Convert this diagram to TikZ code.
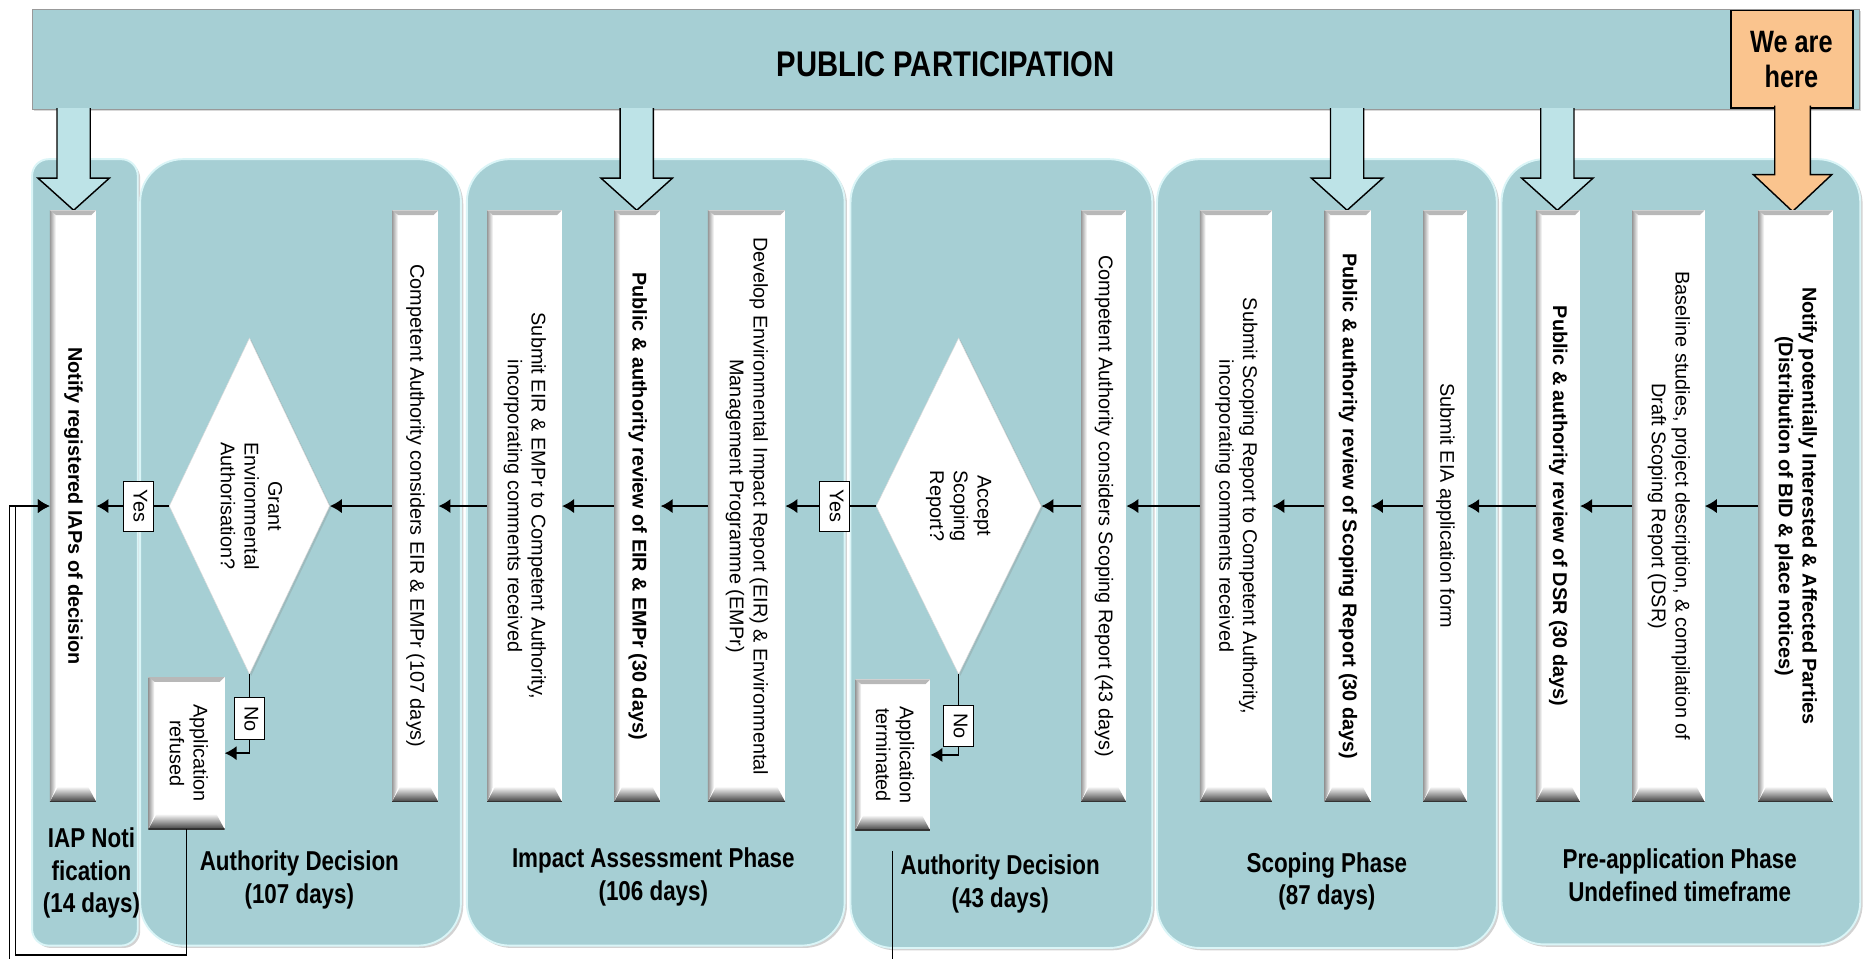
\documentclass[tikz,border=0pt]{standalone}
\usepackage{fontspec}
\setmainfont{Liberation Sans}
\newfontfamily\narrowfont[FakeStretch=0.82]{Liberation Sans}
\usetikzlibrary{arrows.meta,shapes.geometric,shadows}

\definecolor{phaseteal}{HTML}{A6CFD4}
\definecolor{edgeteal}{HTML}{DAF5F7}
\definecolor{arrowteal}{HTML}{BDE3E7}
\definecolor{hereorange}{HTML}{FAC48E}

% rotated (top to bottom) text, lines centred
\newcommand{\vtext}[1]{\rotatebox{-90}{\begin{tabular}{@{}c@{}}#1\end{tabular}}}

\tikzset{
  ppbar/.style={fill=phaseteal, draw=black!40, line width=.8pt,
    drop shadow={opacity=.3,shadow xshift=1.5pt,shadow yshift=-1.5pt}},
  phase/.style={fill=phaseteal, draw=edgeteal, line width=1.6pt, rounded corners=36pt,
    drop shadow={opacity=.35,shadow xshift=2pt,shadow yshift=-2pt}},
  ppdown/.style={fill=arrowteal, draw=black, line width=1.2pt, line join=miter},
  phaselabel/.style={align=center, inner sep=0pt,
    font=\narrowfont\bfseries\fontsize{23}{27.5}\selectfont},
  stepbar/.style={fill=white, inner sep=0pt, minimum width=#1, minimum height=498,
    font=\fontsize{16.7}{20}\selectfont,
    path picture={
      \coordinate (pnw) at (path picture bounding box.north west);
      \coordinate (pne) at (path picture bounding box.north east);
      \coordinate (psw) at (path picture bounding box.south west);
      \coordinate (pse) at (path picture bounding box.south east);
      \fill[black!28] (pnw) -- (pne) -- ([shift={(-4pt,-4pt)}]pne) -- ([shift={(4pt,-4pt)}]pnw) -- cycle;
      \shade[left color=black!40, right color=white] (pnw) -- ([shift={(5pt,-4pt)}]pnw)
        -- ([shift={(5pt,12pt)}]psw) -- (psw) -- cycle;
      \shade[top color=white, bottom color=black!75] (psw) -- (pse)
        -- ([shift={(-7pt,13pt)}]pse) -- ([shift={(7pt,13pt)}]psw) -- cycle;
      \draw[black!80, line width=1.5pt] (psw) -- (pse);
    }},
  stepbar/.default=39,
  decision/.style={diamond, aspect=.47, fill=white, draw=black!15, inner sep=0pt,
    minimum width=135, minimum height=283, font=\fontsize{16.7}{20}\selectfont,
    drop shadow={opacity=.25,shadow xshift=1.5pt,shadow yshift=-1.5pt}},
  answer/.style={draw=black, fill=white, line width=.8pt, inner sep=0pt,
    minimum width=25, minimum height=42, font=\fontsize{16.7}{20}\selectfont},
  flow/.style={->, line width=1.3pt},
}

\begin{document}
\begin{tikzpicture}[x=1pt, y=-1pt, >={Latex[length=10pt,width=12pt]}]
\clip (0,0) rectangle (1570,807);
\fill[white] (0,0) rectangle (1570,807);

% public participation
\draw[ppbar] (27,8) rectangle (1565,92);
\node[font=\narrowfont\bfseries\fontsize{30}{36}\selectfont] (pp) at (796,54) {PUBLIC PARTICIPATION};

% phases
\draw[phase, rounded corners=14pt] (27,134) rectangle (116,796);
\draw[phase] (118,134) rectangle (388,796);
\draw[phase] (393,134) rectangle (711,796);
\draw[phase] (716,134) rectangle (970,798);
\draw[phase] (974,134) rectangle (1260,798);
\draw[phase] (1264,134) rectangle (1566,795);

\node[phaselabel] (lbiap) at (77,735) {IAP Noti\\fication\\(14 days)};
\node[phaselabel] (lbad1) at (252,741) {Authority Decision\\(107 days)};
\node[phaselabel] (lbia) at (550,738) {Impact Assessment Phase\\(106 days)};
\node[phaselabel] (lbad2) at (842,744) {Authority Decision\\(43 days)};
\node[phaselabel] (lbsp) at (1117,742) {Scoping Phase\\(87 days)};
\node[phaselabel] (lbpa) at (1414,737) {Pre-application Phase\\Undefined timeframe};

% arrows from public participation
\foreach \x in {62,536,1134,1311}
{
    \filldraw[ppdown] (\x-14,91) -- (\x-14,150) -- (\x-30,150) -- (\x,177) -- (\x+30,150) -- (\x+14,150) -- (\x+14,91);
}
\draw[fill=hereorange, draw=black, line width=1.2pt] (1457,9) rectangle (1560,91);
\node[font=\narrowfont\bfseries\fontsize{26}{29}\selectfont, align=center] (here) at (1508,50) {We are\\here};
\filldraw[fill=hereorange, draw=black, line width=1.2pt] (1494,89) -- (1494,147) -- (1476,147) -- (1509,178) -- (1542,147) -- (1524,147) -- (1524,89);

% steps
\node[stepbar] (b1) at (61.5,426) {\bfseries\vtext{Notify registered IAPs of decision}};
\node[stepbar] (b2) at (349.5,426) {\vtext{Competent Authority considers EIR \& EMPr (107 days)}};
\node[stepbar=63] (b3) at (441.5,426) {\vtext{Submit EIR \& EMPr to Competent Authority,\\incorporating comments received}};
\node[stepbar] (b4) at (536.5,426) {\bfseries\vtext{Public \& authority review of EIR \& EMPr (30 days)}};
\node[stepbar=65] (b5) at (628.5,426) {\vtext{Develop Environmental Impact Report (EIR) \& Environmental\\Management Programme (EMPr)}};
\node[stepbar=38] (b6) at (929,426) {\vtext{Competent Authority considers Scoping Report (43 days)}};
\node[stepbar=61] (b7) at (1040.5,426) {\vtext{Submit Scoping Report to Competent Authority,\\incorporating comments received}};
\node[stepbar] (b8) at (1134.5,426) {\bfseries\vtext{Public \& authority review of Scoping Report (30 days)}};
\node[stepbar=37] (b9) at (1216.5,426) {\vtext{Submit EIA application form}};
\node[stepbar=37] (b10) at (1311.5,426) {\bfseries\vtext{Public \& authority review of DSR (30 days)}};
\node[stepbar=61] (b11) at (1404.5,426) {\vtext{Baseline studies, project description, \& compilation of\\Draft Scoping Report (DSR)}};
\node[stepbar=63] (b12) at (1511.5,426) {\bfseries\vtext{Notify potentially Interested \& Affected Parties\\(Distribution of BID \& place notices)}};

% decisions
\node[decision] (d1) at (210,426) {\vtext{Grant\\Environmental\\Authorisation?}};
\node[decision, minimum width=139] (d2) at (807,426) {\vtext{Accept\\Scoping\\Report?}};
\node[stepbar=64, minimum height=128] (refused) at (157,634) {\vtext{Application\\refused}};
\node[stepbar=63, minimum height=127] (terminated) at (751.5,635.5) {\vtext{Application\\terminated}};

\node[answer] (y1) at (116.5,426) {\vtext{Yes}};
\node[answer] (y2) at (702.5,426) {\vtext{Yes}};
\node[answer, minimum height=35] (n1) at (210,605) {\vtext{No}};
\node[answer, minimum height=35] (n2) at (807,611) {\vtext{No}};

% flow
\foreach \a/\b in {b12/b11,b11/b10,b10/b9,b9/b8,b8/b7,b7/b6,b6/d2,b5/b4,b4/b3,b3/b2,b2/d1}
{
    \draw[flow] (\a.west) -- (\b.east);
}
\draw[line width=1.3pt] (d2.west) -- (y2.east);
\draw[flow] (y2.west) -- (b5.east);
\draw[line width=1.3pt] (d1.west) -- (y1.east);
\draw[flow] (y1.west) -- (b1.east);
\draw[line width=1.3pt] (d1.south) -- (n1.north);
\draw[flow] (n1.south) |- (refused.east);
\draw[line width=1.3pt] (d2.south) -- (n2.north);
\draw[flow] (n2.south) |- (terminated.east);

% back to notification
\coordinate (fbinner) at (13,804);
\coordinate (fbouter) at (8,830);
\draw[flow] (refused.south) |- (fbinner) |- (b1.west);
\draw[flow] ([yshift=-17pt]terminated.south) |- (fbouter) |- (b1.west);
\end{tikzpicture}
\end{document}
